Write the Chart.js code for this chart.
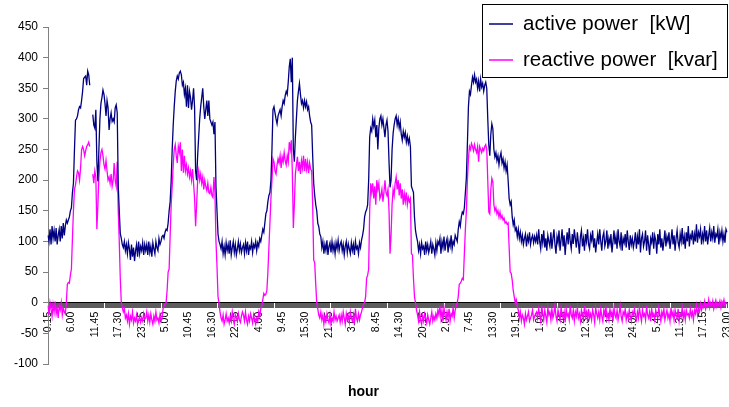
<!DOCTYPE html>
<html>
<head>
<meta charset="utf-8">
<script src="https://cdn.jsdelivr.net/npm/chart.js@4.4.1/dist/chart.umd.min.js"></script>
<style>
  body { margin: 0; background: #fff; }
</style>
</head>
<body>
<canvas id="power" width="729" height="407"></canvas>
<script>
// one week of 15-minute readings, Monday..Sunday
var activeDay1 = [110,100,120,95,125,105,118,100,122,95,110,120,100,125,105,130,110,125,135,130,
  135,140,150,155,
  180,195,250,298,300,305,315,320,318,330,345,366,368,370,355,378,372,355,
  null,null,
  307,290,285,315,230,198,250,300,325,335,347,340,325,305,330,318,282,300,310,296,300,295,318,323,310,
  190,150,113,105,95,
  90,100,85,95,80,98,88,70,95,75,90,68,85,95,75,100,80,92,85,98,78,95]
var activeDay2 = [85,95,78,100,82,92,75,98,88,80,100,90,85,105,95,100,108,110,
  105,115,120,118,130,150,165,200,250,290,320,345,362,370,365,375,378,372,355,360,340,350,320,355,318,345,
  335,315,330,350,318,215,200,240,270,300,320,335,350,320,300,315,330,305,330,300,295,290,295,275,295,
  190,150,112,100,95,
  88,100,80,92,78,98,85,95,80,102,78,90,100,82,95,78,88,100,85,96,82,90]
var activeDay3 = [95,80,98,85,100,78,92,88,100,82,95,90,100,85,98,92,105,100,110,
  120,115,130,145,150,165,175,180,200,250,315,320,310,300,292,305,310,315,305,320,330,325,338,345,340,360,
  385,398,360,400,250,230,270,300,330,345,358,340,325,330,318,330,320,328,315,320,305,295,290,240,195,175,
  160,150,130,124,112,108,
  90,100,80,95,85,102,78,92,98,82,100,85,95,80,98,88,102,85,95]
var activeDay4 = [100,85,95,78,92,100,82,96,88,80,98,85,95,78,100,88,92,80,98,90,102,110,
  120,140,148,152,160,200,270,285,280,300,288,298,270,290,250,285,300,305,290,300,285,270,290,298,280,230,
  188,200,250,276,290,300,305,290,300,285,295,275,265,280,270,278,262,272,260,268,255,190,185,180,140,118,108,
  100,85,95,80,98,88,92,78,100,85,95,82,90,100,80,95,88,78,98,85,100]
var activeDay5 = [95,105,80,100,90,108,85,98,105,82,100,92,110,88,100,95,110,105,100,
  120,132,125,140,148,145,155,180,205,260,320,345,340,355,368,360,372,360,365,350,362,345,365,352,358,345,
  355,360,350,300,257,240,275,292,284,250,238,245,232,240,225,238,245,228,235,220,230,215,225,200,170,160,
  165,140,127,135,118,122,108,120,105,115,
  100,110,95,105,112,92,108,100,115,95,105,110,98,108,100]
var activeDay6 = [110,95,120,100,88,112,98,118,90,105,85,110,100,92,115,88,105,120,95,80,
  108,98,118,85,102,120,92,110,78,100,115,95,122,100,88,112,96,120,105,90,
  115,98,80,108,118,92,105,85,112,100,120,95,88,110,102,118,90,105,82,98,
  112,95,120,100,85,108,115,92,100,118,88,105,96,112,82,100,118,95,108,88,
  120,100,92,115,85,105,98,112,90,118,100,86,110,95,105,90]
var activeDay7 = [100,115,88,108,95,120,82,105,112,92,100,118,85,110,95,78,105,98,115,88,
  110,102,80,112,95,120,90,105,85,100,118,92,108,100,115,88,102,120,95,110,
  85,105,118,98,90,112,100,122,95,108,88,115,100,125,92,110,105,118,95,112,
  100,128,98,115,108,120,95,112,102,125,100,118,95,110,122,100,115,105,125,98,
  112,108,120,95,115,105,118,100,112,98,120,115]

var reactiveDay1 = [-5,-20,0,-10,-22,-3,-15,2,-18,-8,-25,-5,-12,0,-20,-8,-15,-18,
  0,30,33,32,45,55,105,150,185,192,205,215,212,200,220,250,255,250,240,248,255,258,262,255,
  null,null,
  210,195,215,205,120,160,205,230,245,250,240,225,218,232,215,200,205,195,210,190,200,228,200,190,230,
  150,100,40,0,-8,
  -15,-10,-25,-20,-30,-18,-35,-22,-28,-15,-33,-25,-30,-20,-35,-28,-22,-32,-25,-30,-18,-27]
var reactiveDay2 = [-25,-15,-30,-20,-32,-18,-28,-35,-22,-30,-15,-28,-25,-33,-20,-30,-25,-10,-5,-2,
  0,20,50,55,110,160,190,225,250,258,240,228,255,245,262,215,250,212,240,215,225,210,220,205,215,
  200,218,195,170,125,160,200,215,200,210,195,205,185,200,190,183,195,180,178,188,175,172,205,180,
  100,60,10,0,-15,
  -25,-30,-20,-35,-28,-18,-30,-25,-33,-22,-30,-15,-28,-35,-20,-25,-30,-18,-28,-32,-22,-15]
var reactiveDay3 = [-20,-30,-15,-28,-35,-22,-30,-18,-25,-33,-20,-28,-35,-25,-30,-15,-22,-10,-5,
  5,15,12,14,20,50,90,130,170,200,235,230,215,210,225,235,228,240,220,238,230,245,232,225,240,230,
  262,250,265,215,122,160,210,225,238,215,230,210,232,220,240,215,235,218,230,212,228,218,215,160,
  70,65,30,0,-10,-20,
  -25,-15,-28,-20,-35,-22,-30,-18,-28,-33,-20,-35,-25,-30,-15,-28,-22,-30,-25,-20,-32]
var reactiveDay4 = [-20,-30,-15,-25,-35,-18,-28,-22,-32,-15,-25,-30,-20,-35,-10,-25,-30,-18,-28,-20,-15,-8,
  -2,0,10,40,45,55,150,195,180,195,170,190,160,200,185,195,170,175,185,165,180,200,180,175,185,150,
  80,110,160,185,175,195,205,185,200,175,195,170,185,160,178,165,180,160,172,165,170,80,78,40,10,0,-12,
  -20,-30,-15,-28,-35,-22,-30,-18,-25,-33,-20,-28,-35,-25,-15,-30,-22,-28,-18,-25,-12]
var reactiveDay5 = [-20,-5,-25,-12,-30,-8,-20,-28,-15,-25,-10,-30,-18,-22,-8,-25,-12,-5,0,
  10,30,32,35,40,38,80,120,150,200,235,255,250,260,255,248,258,250,245,255,230,255,250,245,252,248,
  255,258,250,200,148,145,185,203,197,160,150,155,145,150,140,148,138,142,135,138,130,132,128,130,
  90,50,48,37,20,10,0,5,-5,-12,-25,-15,
  -30,-20,-25,-35,-18,-28,-22,-15,-30,-25,-20,-12,-28,-22,-18]
var reactiveDay6 = [-15,-25,-10,-20,-30,-5,-18,-28,-12,-22,-32,-8,-20,-15,-28,-10,-25,-18,-5,-22,
  -30,-12,-20,-28,-8,-18,-25,-15,-32,-10,-22,-18,-28,-5,-20,-25,-12,-30,-15,-22,
  -8,-25,-18,-30,-12,-20,-28,-5,-22,-15,-30,-10,-25,-18,-28,-12,-20,-32,-8,-18,
  -25,-15,-28,-10,-22,-30,-12,-20,-5,-25,-18,-28,-10,-22,-15,-30,-8,-20,-25,-12,
  -28,-18,-5,-22,-30,-15,-20,-10,-28,-18,-25,-12,-22,-30,-15,-20]
var reactiveDay7 = [-10,-22,-28,-15,-25,-8,-20,-30,-12,-22,-18,-28,-5,-20,-25,-15,-30,-10,-22,-18,
  -28,-12,-20,-25,-8,-18,-30,-15,-22,-10,-28,-20,-12,-25,-18,-30,-8,-22,-15,-28,
  -12,-20,-25,-10,-30,-18,-22,-8,-25,-15,-28,-12,-20,-18,-25,-10,-22,-15,-28,-12,
  -18,-5,-20,-10,-15,-2,-12,-5,-8,2,-10,-3,-6,5,-8,0,-5,3,-10,-2,
  4,-6,0,-4,3,-8,2,-3,5,-5,0,-2]

var active = [].concat(activeDay1, activeDay2, activeDay3, activeDay4, activeDay5, activeDay6, activeDay7)
var reactive = [].concat(reactiveDay1, reactiveDay2, reactiveDay3, reactiveDay4, reactiveDay5, reactiveDay6, reactiveDay7)

// time of day for each reading, 0.15 .. 24.00
var hours = []
for (var i = 0; i < active.length; i++) {
  var m = ((i + 1) * 15) % 1440
  if (m == 0) m = 1440
  var mm = m % 60
  hours.push(Math.floor(m / 60) + '.' + (mm < 10 ? '0' + mm : mm))
}
var labelEvery = 23
var yTicks = [-100, -50, 0, 50, 100, 150, 200, 250, 300, 350, 400, 450]

Chart.defaults.font.family = '"Liberation Sans", Arial, sans-serif'
Chart.defaults.color = '#000'

var boxLegend = {
  id: 'boxLegend',
  afterDraw: function(chart) {
    var ctx = chart.ctx
    ctx.save()
    ctx.fillStyle = '#fff'
    ctx.fillRect(482.5, 4.5, 245, 73)
    ctx.strokeStyle = '#000'
    ctx.lineWidth = 1
    ctx.strokeRect(482.5, 4.5, 245, 73)
    ctx.font = '20.5px "Liberation Sans", Arial, sans-serif'
    ctx.textBaseline = 'middle'
    chart.data.datasets.forEach(function(ds, k) {
      var y = 24 + k * 36
      ctx.strokeStyle = ds.borderColor
      ctx.lineWidth = 1.5
      ctx.beginPath()
      ctx.moveTo(489, y)
      ctx.lineTo(513, y)
      ctx.stroke()
      ctx.fillStyle = '#000'
      ctx.fillText(ds.label, 523, y)
    })
    ctx.restore()
  }
}

new Chart('power', {
  type: 'line',
  data: {
    labels: hours,
    datasets: [{
      label: 'active power  [kW]',
      data: active,
      borderColor: '#000080',
      borderWidth: 1.3,
      pointRadius: 0,
      tension: 0
    }, {
      label: 'reactive power  [kvar]',
      data: reactive,
      borderColor: '#ff00ff',
      borderWidth: 1.3,
      pointRadius: 0,
      tension: 0
    }]
  },
  options: {
    responsive: false,
    animation: false,
    layout: { padding: { top: 27, right: 2, left: 0, bottom: 0 } },
    plugins: {
      legend: { display: false },
      tooltip: { enabled: false },
      title: {
        display: true,
        position: 'bottom',
        text: 'hour',
        font: { size: 14, weight: 'bold' },
        padding: { top: 19.6, bottom: 6.6 }
      }
    },
    scales: {
      x: {
        position: { y: 0 },
        grid: { drawOnChartArea: false, tickLength: 5, color: 'rgba(0,0,0,0.8)', lineWidth: 0.8 },
        border: { color: '#000' },
        ticks: {
          autoSkip: false,
          minRotation: 90,
          maxRotation: 90,
          padding: 4,
          font: { size: 10.5 },
          callback: function(v, i) { return i % labelEvery == 0 ? hours[i] : '' }
        },
        afterFit: function(s) { s.paddingLeft = 0; s.paddingRight = 0 }
      },
      y: {
        min: yTicks[0],
        max: yTicks[yTicks.length - 1],
        grid: { drawOnChartArea: false, tickLength: 5, color: '#808080' },
        border: { color: '#808080' },
        ticks: { stepSize: 50, padding: 5, font: { size: 12 } },
        afterFit: function(s) { s.width = 48 }
      }
    }
  },
  plugins: [boxLegend]
})
</script>
</body>
</html>
